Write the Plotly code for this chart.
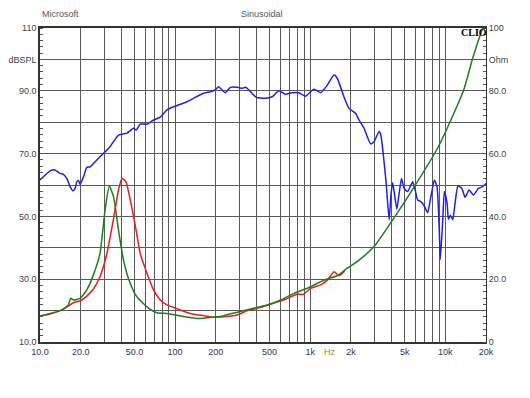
import plotly.graph_objects as go

# SPL (blue, dBSPL, left axis)
spl_freq = [10, 11.9, 12.9, 14.1, 14.9, 15.8, 16.7, 17.5, 18.2, 18.7, 19.3, 19.8, 21.0, 22.2, 23.5,
            27.8, 33.0, 38.1, 44, 49.2, 51.5, 55.2, 61.9, 69.2, 77.6, 87, 97.4, 109, 122.6, 137,
            162, 182, 198, 210, 222, 235, 257, 288, 314, 333, 362, 400, 467, 523, 585, 656, 734,
            822, 920, 1064, 1195, 1338, 1499, 1586, 1776, 1937, 2171, 2297, 2500, 2800, 2968,
            3235, 3330, 3630, 3840, 3950, 4065, 4180, 4375, 4550, 4740, 4960, 5260, 5730, 5960,
            6240, 6600, 6990, 7400, 7740, 8300, 8680, 9020, 9180, 9570, 9840, 10300, 10540,
            10900, 11350, 11800, 12400, 13260, 14000, 15000, 16160, 17550, 18900, 20000]
spl_db = [61.6, 64.5, 64.8, 63.7, 63.4, 62.1, 59.5, 58.2, 58.9, 61.0, 61.4, 60.2, 62.6, 65.6, 65.8,
          69.0, 72.2, 75.9, 76.5, 78.1, 77.5, 79.4, 79.4, 80.7, 81.6, 83.9, 84.9, 85.7, 86.5, 87.6,
          89.2, 89.7, 90.3, 91.3, 90.3, 89.4, 91.1, 91.1, 90.8, 91.1, 89.7, 87.9, 87.6, 88.1, 90.0,
          88.9, 89.4, 89.4, 88.3, 90.5, 89.4, 91.8, 95.0, 94.0, 88.1, 84.4, 82.8, 80.7, 78.1, 73.1,
          73.8, 77.0, 75.9, 61.6, 48.9, 56.3, 60.7, 57.9, 52.3, 57.3, 62.1, 58.9, 57.9, 61.0, 58.7,
          55.2, 54.7, 53.3, 51.2, 55.2, 61.6, 59.5, 45.7, 36.3, 48.9, 57.9, 54.2, 49.1, 50.4, 48.9,
          54.2, 59.7, 58.9, 56.1, 58.4, 56.8, 58.9, 59.5, 60.5]

# Impedance (red, Ohm, right axis)
imp_red_freq = [10, 11.9, 14.1, 15.3, 17.7, 19.8, 22.2, 24.8, 27.8, 31.1, 34.9, 38.1, 40.4, 43.2,
                47.1, 51.4, 55.2, 61.9, 69.2, 77.6, 87, 97.4, 109, 129, 162, 193, 240, 287, 340,
                404, 509, 640, 800, 895, 1005, 1195, 1338, 1500, 1640, 1800]
imp_red_ohm = [8.3, 8.9, 10.0, 10.7, 12.5, 13.1, 14.6, 16.8, 20.8, 27.7, 38.9, 48.4, 52.1, 51.1,
               44.2, 35.7, 28.2, 21.9, 16.6, 13.4, 11.8, 11.0, 10.2, 9.1, 8.4, 7.9, 8.1, 8.6, 9.9,
               10.7, 12.0, 13.4, 15.2, 15.2, 17.1, 18.2, 19.7, 22.4, 21.1, 22.6]

# Impedance (green, Ohm, right axis)
imp_green_freq = [10, 14.1, 15.3, 16.2, 16.9, 17.7, 19.8, 22.2, 24.8, 27.8, 30.3, 32.6, 35.0, 38.1,
                  41.5, 46.5, 52.1, 61.9, 73.3, 87, 115, 145, 172, 216, 264, 362, 480, 606, 757,
                  952, 1130, 1338, 1585, 1880, 2300, 2970, 3950, 5900, 8760, 11000, 13700, 15800,
                  18300, 19000]
imp_green_ohm = [8.3, 10.0, 10.9, 11.8, 13.9, 13.4, 13.9, 16.6, 21.3, 28.2, 42.0, 49.7, 46.3, 35.7,
                 26.1, 18.7, 14.4, 11.2, 9.3, 9.1, 8.1, 7.5, 7.7, 8.1, 9.1, 10.5, 11.8, 13.4, 15.5,
                 17.1, 18.7, 20.1, 21.1, 23.5, 26.1, 30.4, 38.0, 49.5, 61.7, 70.7, 80.3, 89.8,
                 98.3, 100.2]

x_grid = [10, 20, 30, 40, 50, 60, 70, 80, 90, 100, 200, 300, 400, 500, 600, 700, 800, 900,
          1000, 2000, 3000, 4000, 5000, 6000, 7000, 8000, 9000, 10000, 20000]
x_labels = {10: "10.0", 20: "20.0", 50: "50.0", 100: "100", 200: "200", 500: "500",
            1000: "1k", 2000: "2k", 5000: "5k", 10000: "10k", 20000: "20k"}
x_text = [x_labels.get(v, "") for v in x_grid]

y_grid = [10, 20, 30, 40, 50, 60, 70, 80, 90, 100, 110]
y_text = ["10.0", "", "30.0", "", "50.0", "", "70.0", "", "90.0", "dBSPL", "110"]
y2_grid = [0, 10, 20, 30, 40, 50, 60, 70, 80, 90, 100]
y2_text = ["0", "", "20.0", "", "40.0", "", "60.0", "", "80.0", "Ohm", "100"]

GRID = "#5a5a5a"
FONT = "Liberation Sans, Arial, sans-serif"

# page body has an 8px margin; compensate so the plot lands at the target pixels
OFF = 8
W, H = 530 - OFF, 398 - OFF
L, T, PW, PH = 40 - OFF, 28 - OFF, 446, 314
R, B = W - L - PW, H - T - PH

fig = go.Figure()
fig.add_trace(go.Scatter(x=spl_freq, y=spl_db, mode="lines", yaxis="y",
                         line=dict(color="#1f1fe6", width=1.5, shape="spline", smoothing=0.5)))
fig.add_trace(go.Scatter(x=imp_red_freq, y=imp_red_ohm, mode="lines", yaxis="y2",
                         line=dict(color="#e61e1e", width=1.5, shape="spline", smoothing=0.5)))
fig.add_trace(go.Scatter(x=imp_green_freq, y=imp_green_ohm, mode="lines", yaxis="y2",
                         line=dict(color="#1e7d1e", width=1.5, shape="spline", smoothing=0.5)))

fig.update_layout(
    width=W, height=H,
    margin=dict(l=L, r=R, t=T, b=B, pad=0),
    paper_bgcolor="white", plot_bgcolor="white",
    showlegend=False,
    font=dict(family=FONT, size=9, color="#444444"),
    xaxis=dict(type="log", range=[1, 4.30103], tickmode="array", tickvals=x_grid, ticktext=x_text,
               showgrid=True, gridcolor=GRID, gridwidth=1, showline=True, linecolor="#333333",
               linewidth=1.5, mirror=True, ticks="", zeroline=False, automargin=False,
               tickfont=dict(color="#33335f", size=9, family=FONT)),
    yaxis=dict(range=[10, 110], tickmode="array", tickvals=y_grid, ticktext=y_text,
               showgrid=True, gridcolor=GRID, gridwidth=1, showline=True, linecolor="#333333",
               linewidth=1.5, ticks="", zeroline=False, automargin=False,
               minor=dict(tickmode="linear", tick0=10, dtick=2, ticks="inside", ticklen=3,
                          tickcolor="#555555", showgrid=False),
               tickfont=dict(color="#444444", size=9, family=FONT)),
    yaxis2=dict(range=[0, 100], overlaying="y", side="right", tickmode="array", tickvals=y2_grid,
                ticktext=y2_text, showgrid=False, showline=True, linecolor="#333333", linewidth=1,
                ticks="", zeroline=False, automargin=False,
                minor=dict(tickmode="linear", tick0=0, dtick=2, ticks="inside", ticklen=3,
                           tickcolor="#555555", showgrid=False),
                tickfont=dict(color="#444444", size=9, family=FONT)),
)

def px(xp):
    return (xp - 40) / PW
def py(yp):
    return (28 + PH - yp) / PH

fig.add_annotation(text="Microsoft", x=px(40), y=py(14), xref="paper", yref="paper",
                   xanchor="left", yanchor="middle", showarrow=False,
                   font=dict(size=9, color="#555555", family=FONT))
fig.add_annotation(text="Sinusoidal", x=px(262), y=py(14), xref="paper", yref="paper",
                   xanchor="center", yanchor="middle", showarrow=False,
                   font=dict(size=9, color="#555555", family=FONT))
fig.add_annotation(text="Hz", x=3.15, y=py(352), xref="x", yref="paper",
                   xanchor="center", yanchor="middle", showarrow=False,
                   font=dict(size=9, color="#8f8f2a", family=FONT))
fig.add_annotation(text="<b>CLIO</b>", x=px(489), y=py(32), xref="paper", yref="paper",
                   xanchor="right", yanchor="middle", showarrow=False,
                   font=dict(size=10, color="#000000", family="Liberation Serif, Times New Roman, serif"))

fig.write_html("out.html")
